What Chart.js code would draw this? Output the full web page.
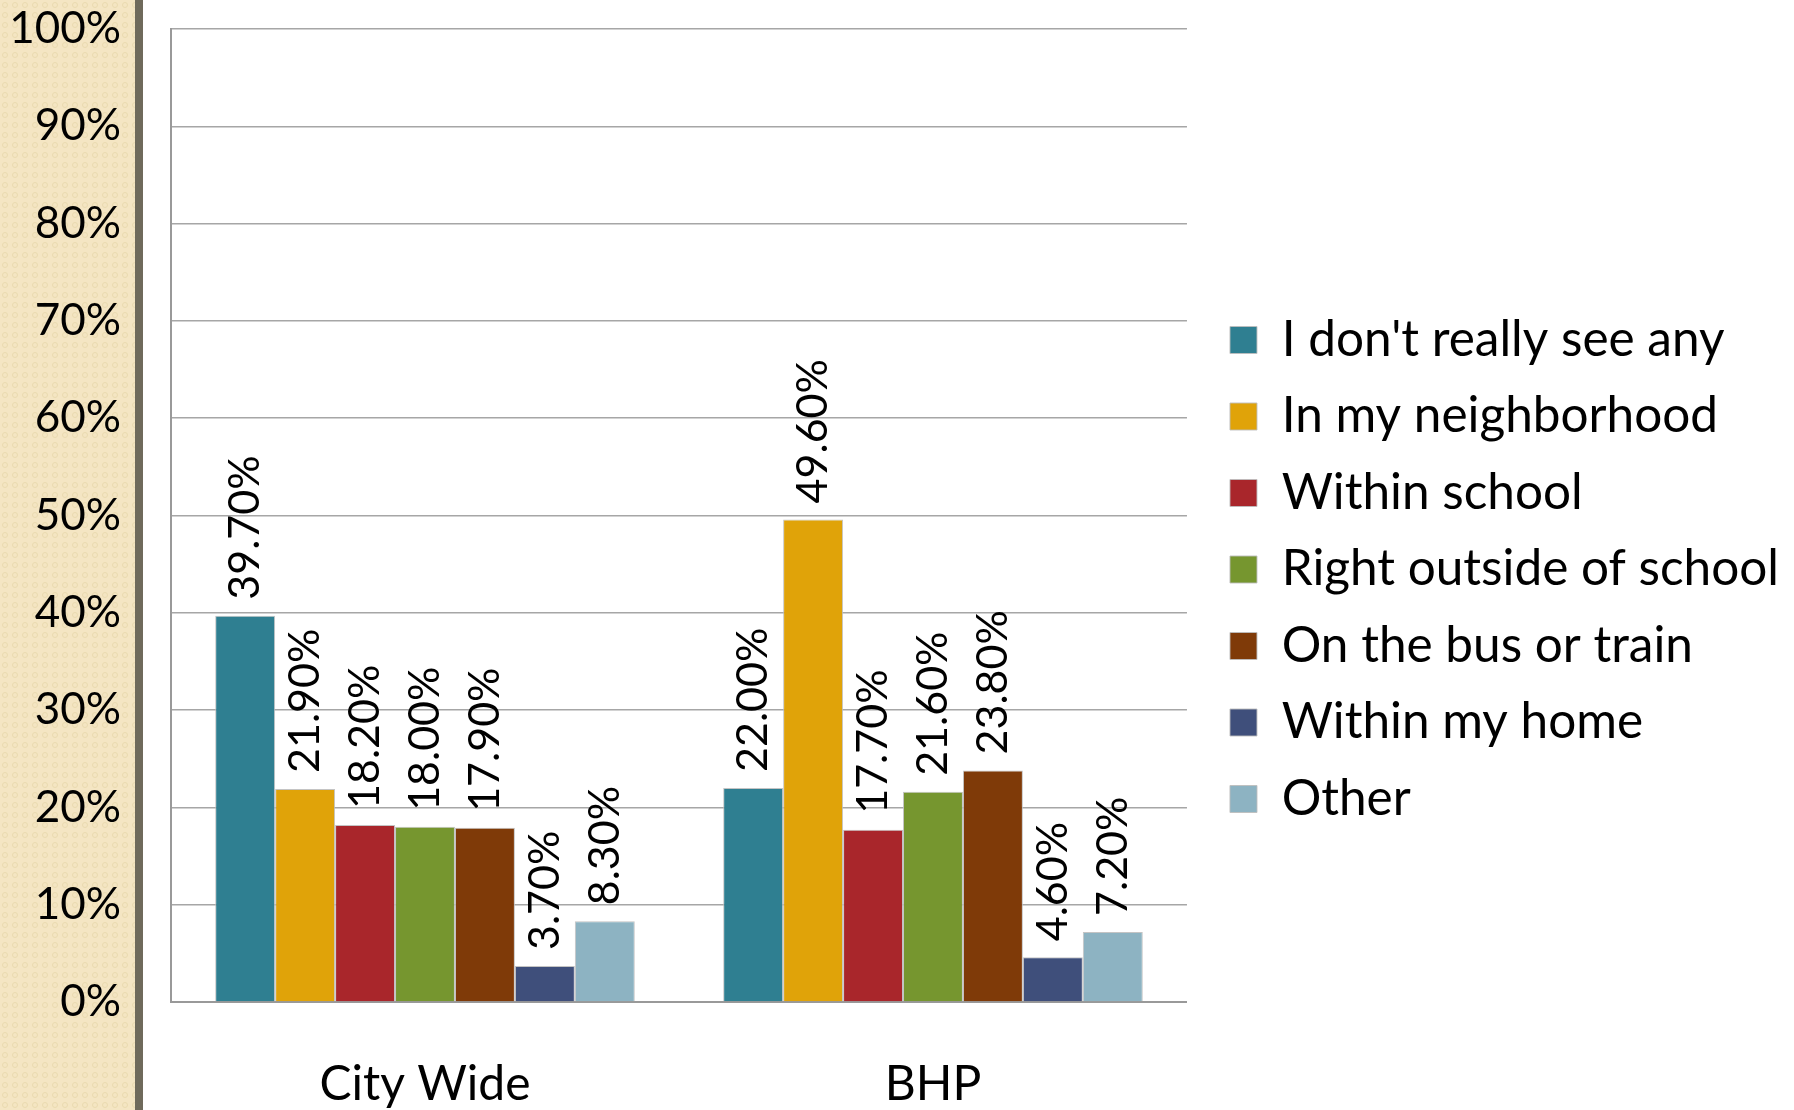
<!DOCTYPE html>
<html>
<head>
<meta charset="utf-8">
<script src="https://cdn.jsdelivr.net/npm/chart.js@4"></script>
<style>
  html, body { margin: 0; padding: 0; background: #fff; }
  canvas { display: block; }
</style>
</head>
<body>
<canvas id="myChart" width="1794" height="1110"></canvas>
<script>
var categories = ['City Wide', 'BHP'];
var seriesNames = ['I don\'t really see any', 'In my neighborhood', 'Within school',
  'Right outside of school', 'On the bus or train', 'Within my home', 'Other'];
var cityWide = [39.7, 21.9, 18.2, 18.0, 17.9, 3.7, 8.3];
var bhp = [22.0, 49.6, 17.7, 21.6, 23.8, 4.6, 7.2];
var yTicks = [0, 10, 20, 30, 40, 50, 60, 70, 80, 90, 100];
var colors = ['#2f7f91', '#e0a309', '#a9262b', '#76962f', '#7f3a08', '#3f4f7b', '#8db3c2'];

var FONT = 'Lato, "Open Sans", sans-serif';

var datasets = [];
for (var i = 0; i < seriesNames.length; i++) {
  datasets.push({
    label: seriesNames[i],
    data: [cityWide[i], bhp[i]],
    backgroundColor: colors[i],
    borderColor: 'rgba(190,190,190,0.9)',
    borderWidth: 1,
    categoryPercentage: 0.826,
    barPercentage: 1.0
  });
}

// beige side panel with a faint pattern
function makePattern(ctx) {
  var c = document.createElement('canvas');
  c.width = 10; c.height = 10;
  var p = c.getContext('2d');
  p.fillStyle = '#f4e5c3';
  p.fillRect(0, 0, 10, 10);
  p.strokeStyle = '#eadaaf';
  p.lineWidth = 1;
  p.beginPath();
  p.arc(5, 5, 2.5, 0, Math.PI * 2);
  p.stroke();
  return ctx.createPattern(c, 'repeat');
}

var sidePanel = {
  id: 'sidePanel',
  beforeDraw: function(chart) {
    var ctx = chart.ctx;
    ctx.save();
    ctx.fillStyle = makePattern(ctx);
    ctx.fillRect(0, 0, 135, chart.height);
    ctx.fillStyle = '#6f6a5b';
    ctx.fillRect(135, 0, 8, chart.height);
    ctx.restore();
  }
};

var valueLabels = {
  id: 'valueLabels',
  afterDatasetsDraw: function(chart) {
    var ctx = chart.ctx;
    ctx.save();
    ctx.fillStyle = '#000';
    ctx.font = '43px ' + FONT;
    ctx.textAlign = 'left';
    ctx.textBaseline = 'middle';
    chart.data.datasets.forEach(function(ds, di) {
      var meta = chart.getDatasetMeta(di);
      meta.data.forEach(function(el, j) {
        ctx.save();
        ctx.translate(el.x, el.y - 16);
        ctx.rotate(-Math.PI / 2);
        ctx.fillText(ds.data[j].toFixed(2) + '%', 0, 0);
        ctx.restore();
      });
    });
    ctx.restore();
  }
};

var ctx = document.getElementById('myChart').getContext('2d');
var myChart = new Chart(ctx, {
  type: 'bar',
  data: { labels: categories, datasets: datasets },
  options: {
    responsive: false,
    animation: false,
    layout: { padding: { top: 29, left: 0, right: 5, bottom: 0 } },
    plugins: {
      tooltip: { enabled: false },
      legend: {
        position: 'right',
        align: 'center',
        maxWidth: 700,
        labels: {
          color: '#000',
          font: { family: FONT, size: 49.5 },
          boxWidth: 27,
          boxHeight: 27,
          padding: 27
        }
      }
    },
    scales: {
      x: {
        grid: { display: false },
        border: { display: true, color: '#999', width: 2 },
        ticks: { color: '#000', font: { family: FONT, size: 48 }, padding: 46 },
        afterFit: function(s) { s.height = 108; }
      },
      y: {
        min: 0,
        max: 100,
        afterBuildTicks: function(s) { s.ticks = yTicks.map(function(v) { return { value: v }; }); },
        grid: { color: '#a6a6a6', lineWidth: 1.5, drawTicks: true, tickLength: 50, tickColor: 'rgba(0,0,0,0)' },
        border: { display: true, color: '#999', width: 2 },
        ticks: {
          color: '#000',
          font: { family: FONT, size: 44 },
          padding: 0,
          callback: function(v) { return v + '%'; }
        },
        afterFit: function(s) { s.width = 171; }
      },
      spacer: {
        position: 'right',
        display: true,
        grid: { display: false },
        border: { display: false },
        ticks: { display: false },
        afterFit: function(s) { s.width = 16; }
      }
    }
  },
  plugins: [sidePanel, valueLabels]
});
</script>
</body>
</html>
